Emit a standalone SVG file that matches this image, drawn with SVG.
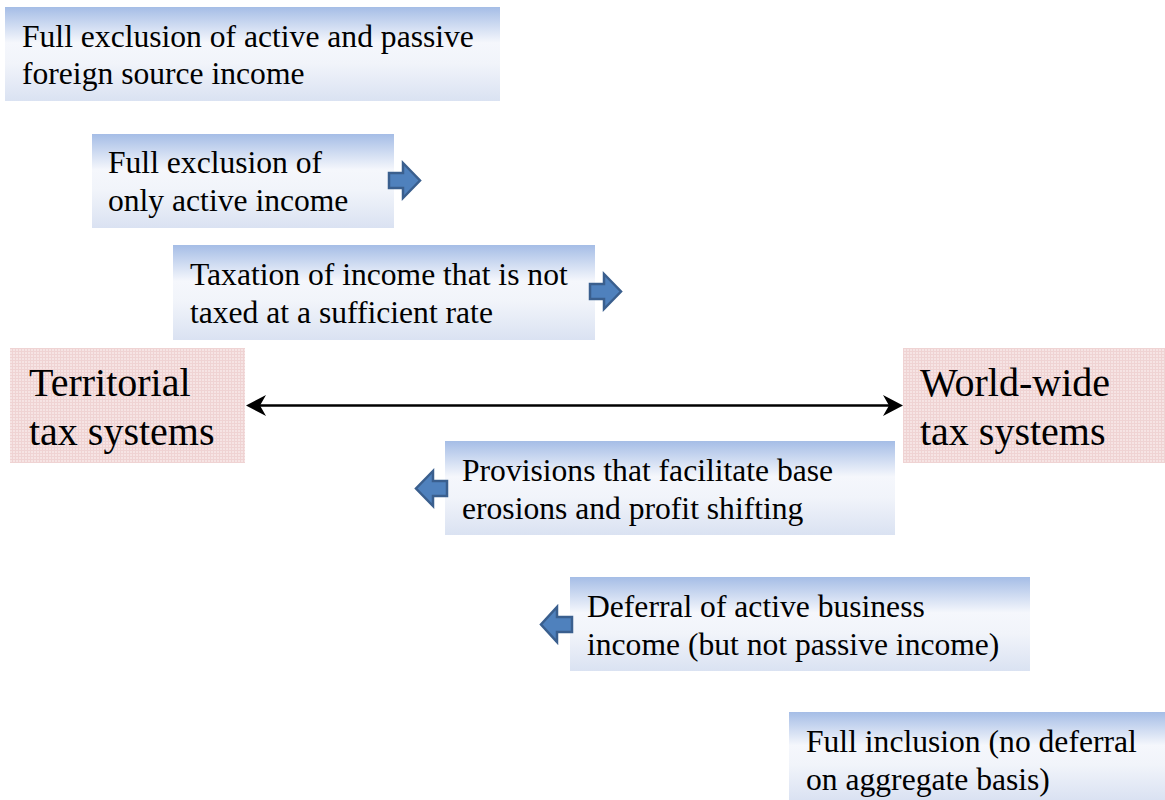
<svg xmlns="http://www.w3.org/2000/svg" width="1165" height="800" viewBox="0 0 1165 800">
<defs>
<linearGradient id="boxGrad" x1="0" y1="0" x2="0" y2="1">
<stop offset="0" stop-color="#a5bde6"/>
<stop offset="0.38" stop-color="#f5f7fc"/>
<stop offset="0.6" stop-color="#f1f4fa"/>
<stop offset="1" stop-color="#dae2f2"/>
</linearGradient>
<pattern id="pinkPat" x="0" y="0" width="3" height="3" patternUnits="userSpaceOnUse">
<rect width="3" height="3" fill="#f6e4e4"/>
<rect width="3" height="1" fill="#efd3d3"/>
<rect width="1" height="3" fill="#efd3d3"/>
</pattern>
</defs>
<style>
.box{fill:url(#boxGrad);}
.pink{fill:url(#pinkPat);}
.t{font-family:"Liberation Serif","Times New Roman",serif;font-size:31.6px;fill:#000;}
.big{font-family:"Liberation Serif","Times New Roman",serif;font-size:40px;fill:#000;}
.barrow{fill:#4f81bd;stroke:#3a5f8e;stroke-width:2.5;stroke-linejoin:miter;}
</style>

<g id="box1">
<rect class="box" x="5" y="7" width="495" height="94"/>
<text class="t" x="22" y="47">Full exclusion of active and passive</text>
<text class="t" x="22" y="84">foreign source income</text>
</g>

<g id="box2">
<rect class="box" x="92" y="134" width="302" height="94"/>
<text class="t" x="108" y="173">Full exclusion of</text>
<text class="t" x="108" y="211">only active income</text>
<polygon class="barrow" points="389,173 403,173 403,163 420,180.5 403,198 403,188 389,188"/>
</g>

<g id="box3">
<rect class="box" x="173" y="245" width="422" height="95"/>
<text class="t" x="190" y="285">Taxation of income that is not</text>
<text class="t" x="190" y="323">taxed at a sufficient rate</text>
<polygon class="barrow" points="590,284 604,284 604,274 621,291.5 604,309 604,299 590,299"/>
</g>

<g id="territorial">
<rect class="pink" x="10" y="348" width="235" height="115"/>
<text class="big" x="29" y="396">Territorial</text>
<text class="big" x="29" y="445">tax systems</text>
</g>

<g id="worldwide">
<rect class="pink" x="903" y="348" width="262" height="115"/>
<text class="big" x="920" y="396">World-wide</text>
<text class="big" x="920" y="445">tax systems</text>
</g>

<g id="box4">
<rect class="box" x="445" y="441" width="450" height="94"/>
<text class="t" x="462" y="481">Provisions that facilitate base</text>
<text class="t" x="462" y="519">erosions and profit shifting</text>
<polygon class="barrow" points="447,481 433,481 433,471 416,488.5 433,506 433,496 447,496"/>
</g>

<g id="box5">
<rect class="box" x="570" y="577" width="460" height="94"/>
<text class="t" x="587" y="617">Deferral of active business</text>
<text class="t" x="587" y="655">income (but not passive income)</text>
<polygon class="barrow" points="572,617 557,617 557,607 541,624.5 557,642 557,632 572,632"/>
</g>

<g id="box6">
<rect class="box" x="789" y="712" width="376" height="88"/>
<text class="t" x="806" y="752">Full inclusion (no deferral</text>
<text class="t" x="806" y="790">on aggregate basis)</text>
</g>

<g id="connectors">
<line x1="256" y1="405.5" x2="893" y2="405.5" stroke="#000" stroke-width="2.5"/>
<polygon points="246,405.5 266,395 260,405.5 266,416" fill="#000"/>
<polygon points="903,405.5 883,395 889,405.5 883,416" fill="#000"/>
</g>
</svg>
